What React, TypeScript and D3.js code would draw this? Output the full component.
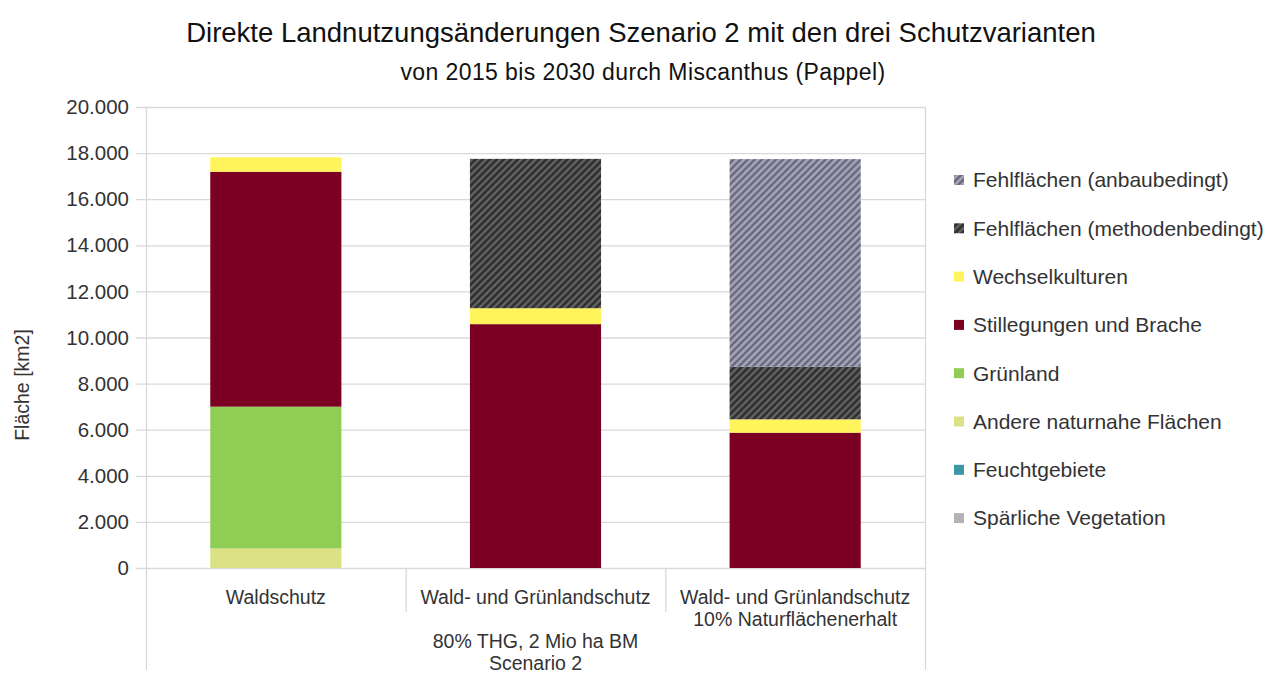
import React from "react";
import * as d3 from "d3";

const categories = ["Waldschutz", "Wald- und Grünlandschutz", "Wald- und Grünlandschutz\n10% Naturflächenerhalt"];
const groupLabel = ["80% THG, 2 Mio ha BM", "Scenario 2"];
const seriesNames = [
  "Spärliche Vegetation",
  "Feuchtgebiete",
  "Andere naturnahe Flächen",
  "Grünland",
  "Stillegungen und Brache",
  "Wechselkulturen",
  "Fehlflächen (methodenbedingt)",
  "Fehlflächen (anbaubedingt)",
];
const sparse = [0, 0, 0];
const wetland = [0, 0, 0];
const nearNatural = [850, 0, 0];
const grassland = [6150, 0, 0];
const fallow = [10190, 10580, 5870];
const catchCrops = [630, 690, 580];
const missingMethod = [0, 6480, 2280];
const missingCrop = [0, 0, 9010];
const yTicks = [0, 2000, 4000, 6000, 8000, 10000, 12000, 14000, 16000, 18000, 20000];

const W = 1267, H = 695;
const FONT = '"Liberation Sans", Arial, sans-serif';

const App = () => {
  const ref = React.useRef<SVGSVGElement>(null);

  React.useEffect(() => {
    const svg = d3.select(ref.current);
    svg.selectAll("*").remove();

    const left = 146, right = 925, top = 107, bottom = 568;
    const values = [sparse, wetland, nearNatural, grassland, fallow, catchCrops, missingMethod, missingCrop];
    const rows = categories.map((c, i) => {
      const r: any = { cat: c };
      seriesNames.forEach((s, j) => (r[s] = values[j][i]));
      return r;
    });
    const stacked = d3.stack().keys(seriesNames)(rows);

    const x = d3.scaleBand().domain(categories).range([left, right]).paddingInner(0).paddingOuter(0);
    const y = d3.scaleLinear().domain([0, 20000]).range([bottom, top]);
    const de = d3.formatLocale({ decimal: ",", thousands: ".", grouping: [3], currency: ["", "€"] });
    const fmt = de.format(",");

    // patterns
    const defs = svg.append("defs");
    const hatch = (id: string, bg: string, fg: string) => {
      const p = defs.append("pattern").attr("id", id).attr("patternUnits", "userSpaceOnUse")
        .attr("width", 5).attr("height", 5).attr("patternTransform", "rotate(45)");
      p.append("rect").attr("width", 5).attr("height", 5).attr("fill", bg);
      p.append("line").attr("x1", 1.5).attr("x2", 1.5).attr("y1", 0).attr("y2", 5)
        .attr("stroke", fg).attr("stroke-width", 2);
    };
    hatch("hatchDark", "#2e2e2e", "#6e6e6e");
    hatch("hatchLight", "#a4a4bc", "#5c5c6c");

    const colors: Record<string, string> = {
      "Spärliche Vegetation": "#b3b3b3",
      "Feuchtgebiete": "#3e95a3",
      "Andere naturnahe Flächen": "#dce186",
      "Grünland": "#8fcd55",
      "Stillegungen und Brache": "#7c0021",
      "Wechselkulturen": "#fff45c",
      "Fehlflächen (methodenbedingt)": "url(#hatchDark)",
      "Fehlflächen (anbaubedingt)": "url(#hatchLight)",
    };

    // grid
    svg.append("g").selectAll("line").data(yTicks).join("line")
      .attr("x1", left - 10).attr("x2", right)
      .attr("y1", (d) => y(d) + 0.5).attr("y2", (d) => y(d) + 0.5)
      .attr("stroke", "#d9d9d9").attr("stroke-width", 1.3);
    svg.append("line").attr("x1", left + 0.5).attr("x2", left + 0.5).attr("y1", top).attr("y2", 670)
      .attr("stroke", "#d9d9d9").attr("stroke-width", 1.3);
    svg.append("line").attr("x1", right + 0.5).attr("x2", right + 0.5).attr("y1", top).attr("y2", 670)
      .attr("stroke", "#d9d9d9").attr("stroke-width", 1.3);
    svg.append("g").selectAll("line").data(categories.slice(1)).join("line")
      .attr("x1", (d) => x(d)! + 0.5).attr("x2", (d) => x(d)! + 0.5)
      .attr("y1", bottom).attr("y2", 612)
      .attr("stroke", "#d9d9d9").attr("stroke-width", 1.3);

    // y tick labels
    svg.append("g").selectAll("text").data(yTicks).join("text")
      .attr("x", 129).attr("y", (d) => y(d)).attr("dy", "0.35em")
      .attr("text-anchor", "end").attr("font-family", FONT).attr("font-size", 20.5).attr("fill", "#333")
      .text((d) => fmt(d));

    // bars
    const bw = x.bandwidth() * 0.505;
    svg.append("g").selectAll("g").data(stacked).join("g")
      .attr("fill", (d) => colors[d.key])
      .selectAll("rect").data((d) => d).join("rect")
      .attr("x", (d: any) => x(d.data.cat)! + (x.bandwidth() - bw) / 2)
      .attr("width", bw)
      .attr("y", (d) => y(d[1]))
      .attr("height", (d) => y(d[0]) - y(d[1]));

    // category labels
    categories.forEach((c) => {
      c.split("\n").forEach((line, k) => {
        svg.append("text").attr("x", x(c)! + x.bandwidth() / 2).attr("y", 597 + k * 22).attr("dy", "0.35em")
          .attr("text-anchor", "middle").attr("font-family", FONT).attr("font-size", 19.5).attr("fill", "#333")
          .text(line);
      });
    });
    groupLabel.forEach((t, k) => {
      svg.append("text").attr("x", (left + right) / 2).attr("y", 641 + k * 22).attr("dy", "0.35em")
        .attr("text-anchor", "middle").attr("font-family", FONT).attr("font-size", 19.5).attr("fill", "#333")
        .text(t);
    });

    // y axis title
    svg.append("text").attr("transform", "translate(22,385) rotate(-90)").attr("dy", "0.35em")
      .attr("text-anchor", "middle").attr("font-family", FONT).attr("font-size", 19.5).attr("fill", "#333")
      .text("Fläche [km2]");

    // titles
    svg.append("text").attr("x", 641).attr("y", 32).attr("dy", "0.35em").attr("text-anchor", "middle")
      .attr("font-family", FONT).attr("font-size", 27.5).attr("fill", "#111")
      .text("Direkte Landnutzungsänderungen Szenario 2 mit den drei Schutzvarianten");
    svg.append("text").attr("x", 643).attr("y", 72).attr("dy", "0.35em").attr("text-anchor", "middle")
      .attr("font-family", FONT).attr("font-size", 23).attr("letter-spacing", 0.4).attr("fill", "#111")
      .text("von 2015 bis 2030 durch Miscanthus (Pappel)");

    // legend
    const legend = svg.append("g").selectAll("g").data(seriesNames.slice().reverse()).join("g")
      .attr("transform", (d, i) => `translate(954,${180 + i * 48.3})`);
    legend.append("rect").attr("x", 0).attr("y", -5).attr("width", 10).attr("height", 10)
      .attr("fill", (d) => colors[d]);
    legend.append("text").attr("x", 19).attr("dy", "0.35em").attr("font-family", FONT)
      .attr("font-size", 21).attr("fill", "#333").text((d) => d);
  }, []);

  return (
    <svg ref={ref} width={W} height={H}
      style={{ position: "fixed", left: 0, top: 0, background: "#fff", display: "block" }} />
  );
};

export default App;
